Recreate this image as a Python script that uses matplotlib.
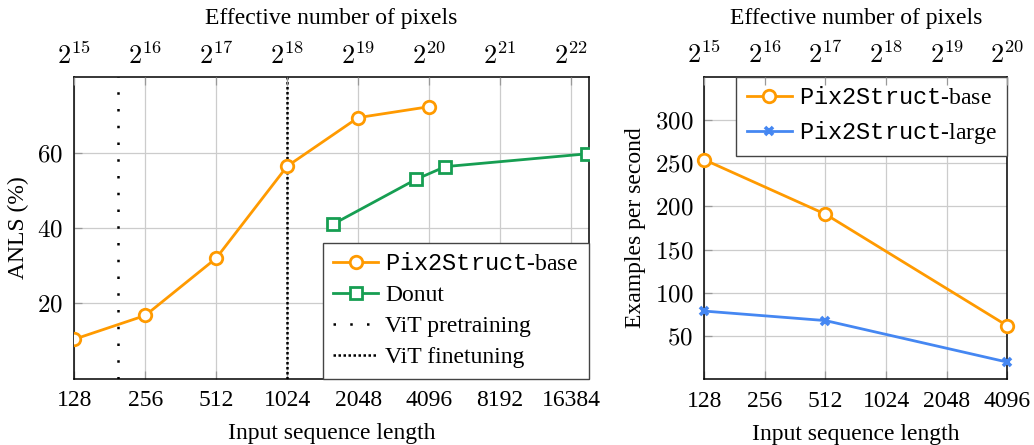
import matplotlib
matplotlib.use('Agg')
import matplotlib.pyplot as plt
from matplotlib.ticker import FixedLocator, NullLocator
from matplotlib.font_manager import FontProperties

plt.rcParams['font.family'] = ['Liberation Serif', 'DejaVu Serif']
plt.rcParams['mathtext.fontset'] = 'cm'
plt.rcParams['mathtext.tt'] = 'Liberation Mono'
plt.rcParams['mathtext.rm'] = 'Liberation Serif'

# ---------------- data ----------------
left_xticks = [128, 256, 512, 1024, 2048, 4096, 8192, 16384]
left_top_exps = [15, 16, 17, 18, 19, 20, 21, 22]
left_yticks = [20, 40, 60]

p2s_len = [128, 256, 512, 1024, 2048, 4096]
p2s_anls = [10.5, 16.8, 32.0, 56.4, 69.3, 72.2]

donut_len = [1600, 3600, 4800, 19200]
donut_anls = [41.0, 52.9, 56.3, 59.7]

vit_pretrain_len = 196
vit_finetune_len = 1024

right_xticks = [128, 256, 512, 1024, 2048, 4096]
right_top_exps = [15, 16, 17, 18, 19, 20]
right_yticks = [50, 100, 150, 200, 250, 300]

speed_len = [128, 512, 4096]
speed_base = [254, 191, 62]
speed_large = [79, 68, 20]

ORANGE = '#FF9A00'
GREEN = '#169E52'
BLUE = '#4587F2'
GRID = '#cccccc'
FS = 17

fig = plt.figure(figsize=(10.34, 4.45), dpi=100)
axL = fig.add_axes([74.3 / 1034, 1 - 378.8 / 445, 514.4 / 1034, 301.5 / 445])
axR = fig.add_axes([704.3 / 1034, 1 - 379.4 / 445, 303.0 / 1034, 302.7 / 445])


def style_axes(ax, xticks, top_exps, yticks, xlim, ylim):
    ax.set_xscale('log', base=2)
    ax.set_xlim(*xlim)
    ax.set_ylim(*ylim)
    ax.xaxis.set_major_locator(FixedLocator(xticks))
    ax.xaxis.set_minor_locator(NullLocator())
    ax.set_xticklabels([str(v) for v in xticks], fontsize=FS)
    ax.set_yticks(yticks)
    ax.set_yticklabels([f'${v}$' for v in yticks], fontsize=FS + 1)
    ax.grid(True, color=GRID, lw=0.9, zorder=0)
    ax.set_axisbelow(True)
    ax.tick_params(direction='in', length=6, width=0.9, color='#999999', pad=8,
                   top=False, right=False)
    for s in ax.spines.values():
        s.set_linewidth(1.1)
        s.set_color('black')
    top = ax.twiny()
    top.set_xscale('log', base=2)
    top.set_xlim(*xlim)
    top.xaxis.set_major_locator(FixedLocator(xticks))
    top.xaxis.set_minor_locator(NullLocator())
    top.set_xticklabels([f'$2^{{{e}}}$' for e in top_exps], fontsize=FS + 2)
    top.tick_params(direction='in', length=6, width=0.9, color='#999999', pad=6)
    for s in top.spines.values():
        s.set_visible(False)
    top.set_xlabel('Effective number of pixels', fontsize=FS, labelpad=13)
    ax.set_xlabel('Input sequence length', fontsize=FS, labelpad=9)
    return top


def make_legend(ax, loc):
    prop = FontProperties(family=['Liberation Serif'], size=FS,
                          math_fontfamily='custom')
    leg = ax.legend(loc=loc, borderaxespad=0, prop=prop, frameon=True,
                    fancybox=False, edgecolor='#444444', framealpha=1,
                    handlelength=1.9, handletextpad=0.3, labelspacing=0.4,
                    borderpad=0.45)
    leg.get_frame().set_linewidth(1.0)
    leg.set_zorder(10)
    return leg


# ---------------- left panel ----------------
style_axes(axL, left_xticks, left_top_exps, left_yticks, (128, 2 ** 14.25), (0, 80))
axL.plot(p2s_len, p2s_anls, color=ORANGE, lw=2.0, marker='o', ms=9,
         mfc='white', mec=ORANGE, mew=2.0, label=r'$\mathtt{Pix2Struct}$-base', zorder=4)
axL.plot(donut_len, donut_anls, color=GREEN, lw=2.0, marker='s', ms=8,
         mfc='white', mec=GREEN, mew=2.0, label='Donut', zorder=4)
axL.axvline(vit_pretrain_len, color='black', lw=1.8, ls=(0, (1, 5.7)),
            label='ViT pretraining', zorder=3)
axL.axvline(vit_finetune_len, color='black', lw=1.8, ls=(0, (1, 1)),
            label='ViT finetuning', zorder=3)
axL.set_ylabel('ANLS (%)', fontsize=FS, labelpad=6)
make_legend(axL, 'lower right')

# ---------------- right panel ----------------
style_axes(axR, right_xticks, right_top_exps, right_yticks, (128, 4096), (0, 350))
axR.plot(speed_len, speed_base, color=ORANGE, lw=2.0, marker='o', ms=9,
         mfc='white', mec=ORANGE, mew=2.0, label=r'$\mathtt{Pix2Struct}$-base',
         zorder=4, clip_on=False)
axR.plot(speed_len, speed_large, color=BLUE, lw=2.0, marker='x', ms=6,
         mec=BLUE, mew=2.6, label=r'$\mathtt{Pix2Struct}$-large', zorder=4,
         clip_on=False)
axR.set_ylabel('Examples per second', fontsize=FS, labelpad=6)
make_legend(axR, 'upper right')

fig.savefig('out.png', dpi=100)
